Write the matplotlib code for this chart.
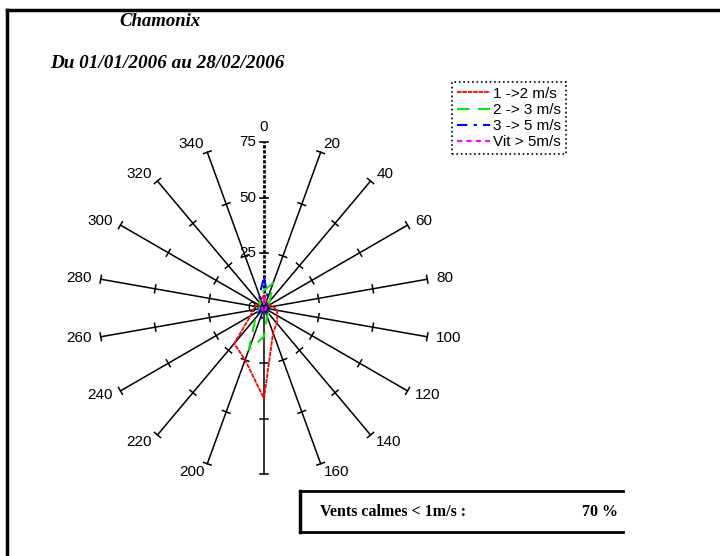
import numpy as np
import matplotlib.pyplot as plt
from matplotlib.lines import Line2D

# directions (degrees from north, clockwise) and frequencies (%)
directions = np.arange(0, 360, 20)
v_1_2 = [6, 3, 2, 3, 4, 6, 7, 9, 12, 41, 25, 21, 7, 5, 4, 3, 3, 4]
v_2_3 = [8, 12, 4, 2, 2, 2, 2, 3, 4, 13, 20, 6, 3, 2, 2, 2, 3, 5]
v_3_5 = [14, 5, 2, 1, 1, 1, 1, 2, 3, 4, 5, 5, 2, 1, 1, 2, 3, 6]
v_sup5 = [5, 2, 1, 1, 1, 1, 1, 1, 1, 2, 2, 1, 1, 1, 1, 1, 1, 1]
series_labels = ['1 ->2 m/s', '2 -> 3 m/s', '3 -> 5 m/s', 'Vit > 5m/s']
radial_ticks = [0, 25, 50, 75]
calm_pct = 70

W, H = 720, 556
cx, cy = 264, 308          # centre of the rose, pixels
scale = 2.21               # pixels per %

fig = plt.figure(figsize=(W / 100, H / 100), dpi=100)
ax = fig.add_axes([0, 0, 1, 1])
ax.set_xlim(-cx / scale, (W - cx) / scale)
ax.set_ylim(-(H - cy) / scale, cy / scale)
ax.axis('off')

rmax = radial_ticks[-1]
th = np.radians(directions)

# spokes with small ticks
for d, t in zip(directions, th):
    ux, uy = np.sin(t), np.cos(t)
    if d == 0:
        ax.plot([0, 0], [0, rmax], color='black', lw=2.0,
                linestyle=(0, (1.2, 0.6)), zorder=1)
        for r in radial_ticks:
            ax.plot([-1.8, 1.8], [r, r], color='black', lw=1.2, zorder=1)
            ax.text(-3.5, r, str(r), ha='right', va='center', fontsize=11,
                    family='Liberation Sans')
    else:
        ax.plot([0, rmax * ux], [0, rmax * uy], color='black', lw=1.1, zorder=1)
        for r in radial_ticks[1:]:
            px, py = uy, -ux
            ax.plot([r * ux - 1.8 * px, r * ux + 1.8 * px],
                    [r * uy - 1.8 * py, r * uy + 1.8 * py],
                    color='black', lw=1.1, zorder=1)
    if d == 180:
        continue
    rl = 82 if d == 0 else 79
    ha = 'left' if ux > 0.1 else ('right' if ux < -0.1 else 'center')
    ax.text(rl * ux, rl * uy, str(d), ha=ha, va='center', fontsize=11,
            family='Liberation Sans')

# wind rose series
styles = [
    dict(color='red', lw=1.3, linestyle=(0, (2.5, 0.5))),
    dict(color='#00ee00', lw=1.5, linestyle=(0, (6, 4))),
    dict(color='blue', lw=1.5, linestyle=(0, (5, 3, 1.5, 3))),
    dict(color='magenta', lw=1.5, linestyle=(0, (2.5, 2))),
]
handles = []
for vals, lab, st in zip([v_1_2, v_2_3, v_3_5, v_sup5], series_labels, styles):
    r = np.append(vals, vals[0])
    t = np.append(th, th[0])
    ln, = ax.plot(r * np.sin(t), r * np.cos(t), label=lab, zorder=3, **st)
    handles.append(ln)

leg = ax.legend(handles=handles, loc='upper left',
                bbox_to_anchor=(452 / W, 1 - 82 / H), bbox_transform=fig.transFigure,
                prop={'family': 'Liberation Sans', 'size': 11},
                handlelength=2.2, handletextpad=0.2, labelspacing=0.15,
                borderpad=0.3, borderaxespad=0, fancybox=False, framealpha=1)
leg.get_frame().set_edgecolor('black')
leg.get_frame().set_linestyle(':')
leg.get_frame().set_linewidth(1.2)

# outer frame
def fx(x):
    return x / W

def fy(y):
    return 1 - y / H

fig.add_artist(Line2D([fx(7), fx(7)], [fy(10), fy(H)], color='black', lw=2.5))
fig.add_artist(Line2D([fx(7), fx(W)], [fy(10), fy(10)], color='black', lw=2.5))

# titles
fig.text(fx(160), fy(21), 'Chamonix', ha='center', va='center', fontsize=13.5,
         family='Liberation Serif', weight='bold', style='italic')
fig.text(fx(50), fy(63), 'Du 01/01/2006 au 28/02/2006', ha='left', va='center',
         fontsize=13.8, family='Liberation Serif', weight='bold', style='italic')

# calm winds box
fig.add_artist(Line2D([fx(300), fx(300)], [fy(491), fy(532)], color='black', lw=2.5))
fig.add_artist(Line2D([fx(300), fx(623)], [fy(491), fy(491)], color='black', lw=2))
fig.add_artist(Line2D([fx(300), fx(623)], [fy(532), fy(532)], color='black', lw=2))
fig.text(fx(320), fy(512), 'Vents calmes < 1m/s :', ha='left', va='center',
         fontsize=11.5, family='Liberation Serif', weight='bold')
fig.text(fx(618), fy(512), f'{calm_pct} %', ha='right', va='center',
         fontsize=11.5, family='Liberation Serif', weight='bold')

fig.savefig('out.png', dpi=100)
